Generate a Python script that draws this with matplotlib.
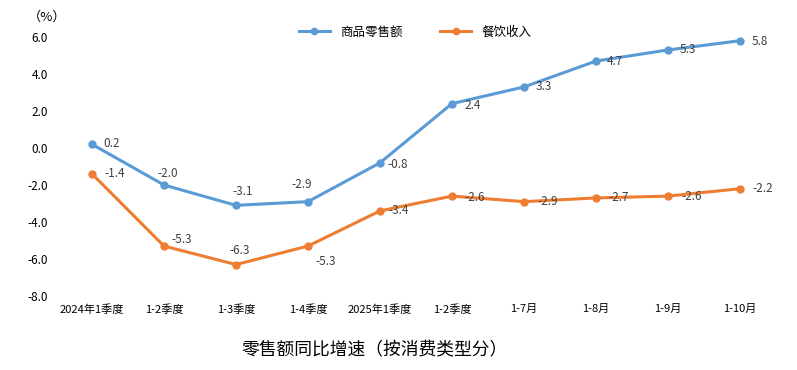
import matplotlib
matplotlib.use('Agg')
import matplotlib.pyplot as plt

plt.rcParams['font.family'] = ['Noto Sans CJK SC', 'DejaVu Sans']

categories = ['2024年1季度', '1-2季度', '1-3季度', '1-4季度', '2025年1季度',
              '1-2季度', '1-7月', '1-8月', '1-9月', '1-10月']
goods = [0.2, -2.0, -3.1, -2.9, -0.8, 2.4, 3.3, 4.7, 5.3, 5.8]
catering = [-1.4, -5.3, -6.3, -5.3, -3.4, -2.6, -2.9, -2.7, -2.6, -2.2]
yticks = [6.0, 4.0, 2.0, 0.0, -2.0, -4.0, -6.0, -8.0]

# label offsets in pixels (dx, dy, ha)
goods_off = [(11, 1, 'left'), (4, 12, 'center'), (7, 14, 'center'), (-6, 17, 'center'),
             (7, -2, 'left'), (12, -2, 'left'), (12, 0, 'left'), (11, 0, 'left'),
             (12, 0, 'left'), (12, -1, 'left')]
cat_off = [(12, 0, 'left'), (7, 7, 'left'), (4, 14, 'center'), (7, -15, 'left'),
           (8, 0, 'left'), (12, -1, 'left'), (13, 0, 'left'), (12, 0, 'left'),
           (13, 0, 'left'), (12, 0, 'left')]

blue = '#5B9BD5'
orange = '#ED7D31'

fig = plt.figure(figsize=(7.97, 3.70), dpi=100)
ax = fig.add_axes([56 / 797, 0.2, 720 / 797, 0.7])
x = list(range(len(categories)))
ax.plot(x, goods, color=blue, linewidth=2.2, marker='o', markersize=5, label='商品零售额')
ax.plot(x, catering, color=orange, linewidth=2.2, marker='o', markersize=5, label='餐饮收入')

for xi, v, (dx, dy, ha) in zip(x, goods, goods_off):
    ax.annotate(f'{v:.1f}', (xi, v), xytext=(dx, dy), textcoords='offset pixels',
                ha=ha, va='center', fontsize=8.5, color='#404040')
for xi, v, (dx, dy, ha) in zip(x, catering, cat_off):
    ax.annotate(f'{v:.1f}', (xi, v), xytext=(dx, dy), textcoords='offset pixels',
                ha=ha, va='center', fontsize=8.5, color='#404040')

ax.set_xlim(-0.5, len(categories) - 0.5)
ax.set_ylim(-8, 6)
ax.set_yticks(yticks)
ax.set_yticklabels([f'{t:.1f}' for t in yticks], fontsize=8.5)
ax.set_xticks(x)
ax.set_xticklabels(categories, fontsize=8)
ax.tick_params(length=0, pad=6)
for s in ax.spines.values():
    s.set_visible(False)

fig.text(28 / 797, 1 - 17 / 370, '（%）', fontsize=9.5, ha='left', va='center')
fig.legend(loc='center', bbox_to_anchor=(415 / 797, 1 - 32 / 370), ncol=2, frameon=False,
           fontsize=9, handlelength=2.5, columnspacing=3, markerscale=0.9)
fig.text(374 / 797, 1 - 350 / 370, '零售额同比增速（按消费类型分）', fontsize=12.8,
         ha='center', va='center')

fig.savefig('out.png', dpi=100)
